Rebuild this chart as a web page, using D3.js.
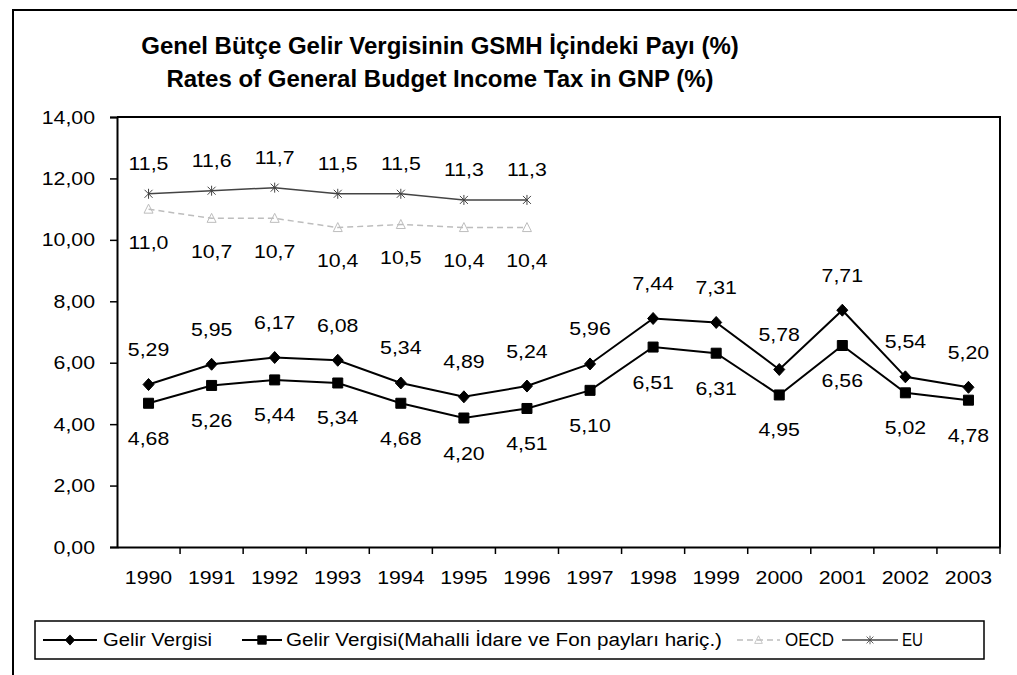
<!DOCTYPE html>
<html>
<head>
<meta charset="utf-8">
<script src="https://cdn.jsdelivr.net/npm/d3@7"></script>
<style>
  html, body { margin: 0; padding: 0; background: #fff; }
  svg { display: block; }
  text { font-family: "Liberation Sans", Arial, sans-serif; fill: #000; }
</style>
</head>
<body>
<svg id="chart" width="1017" height="675"></svg>
<script>
const years = ["1990","1991","1992","1993","1994","1995","1996","1997","1998","1999","2000","2001","2002","2003"];
const gelirVergisi = [5.29, 5.95, 6.17, 6.08, 5.34, 4.89, 5.24, 5.96, 7.44, 7.31, 5.78, 7.71, 5.54, 5.20];
const gelirMahalliHaric = [4.68, 5.26, 5.44, 5.34, 4.68, 4.20, 4.51, 5.10, 6.51, 6.31, 4.95, 6.56, 5.02, 4.78];
const oecdYears = ["1990","1991","1992","1993","1994","1995","1996"];
const oecd = [11.0, 10.7, 10.7, 10.4, 10.5, 10.4, 10.4];
const eu = [11.5, 11.6, 11.7, 11.5, 11.5, 11.3, 11.3];
const yTicks = [0, 2, 4, 6, 8, 10, 12, 14];
const titleLines = ["Genel Bütçe Gelir Vergisinin GSMH İçindeki Payı (%)", "Rates of General Budget Income Tax in GNP (%)"];
const legendLabels = ["Gelir Vergisi", "Gelir Vergisi(Mahalli İdare ve Fon payları hariç.)", "OECD", "EU"];

const svg = d3.select("#chart");
const STRETCH = 1.12;
function stretch(sel, k) {
  sel.each(function () {
    const w = this.getComputedTextLength();
    this.setAttribute("textLength", w * k);
    this.setAttribute("lengthAdjust", "spacingAndGlyphs");
  });
}
function fitWidth(sel, w) {
  sel.attr("textLength", w).attr("lengthAdjust", "spacingAndGlyphs");
}
const comma2 = d => d.toFixed(2).replace(".", ",");
const comma1 = d => d.toFixed(1).replace(".", ",");

// outer frame
svg.append("rect").attr("x", 13).attr("y", 10).attr("width", 1030).attr("height", 700)
  .attr("fill", "none").attr("stroke", "#000").attr("stroke-width", 2);

// title
const tl = svg.append("g");
tl.selectAll("text").data(titleLines).join("text")
  .attr("x", 440).attr("y", (d, i) => 54 + i * 33)
  .attr("text-anchor", "middle")
  .style("font-weight", "bold").style("font-size", "24px")
  .text(d => d);

const x = d3.scaleBand().domain(years).range([117, 1000]);
const y = d3.scaleLinear().domain([0, 14]).range([547, 117]);
const cx = d => x(d) + x.bandwidth() / 2;

// plot area border (top & right)
svg.append("path")
  .attr("d", `M${x.range()[0]},${y(14)}H${x.range()[1]}V${y(0)}`)
  .attr("fill", "none").attr("stroke", "#000").attr("stroke-width", 2);

// y axis
const yAxis = svg.append("g").attr("transform", `translate(${x.range()[0]},0)`)
  .call(d3.axisLeft(y).tickValues(yTicks).tickFormat(comma2).tickSize(7).tickPadding(15));
yAxis.select(".domain").attr("stroke-width", 2);
yAxis.selectAll(".tick line").attr("stroke-width", 1.5);
yAxis.selectAll("text").style("font-size", "19px").attr("fill", "#000");
stretch(yAxis.selectAll("text"), STRETCH);

// x axis
const xAxis = svg.append("g").attr("transform", `translate(0,${y(0)})`)
  .call(d3.axisBottom(x).tickSize(0).tickPadding(24));
xAxis.select(".domain").attr("stroke-width", 2);
xAxis.selectAll("text").style("font-size", "19px").attr("fill", "#000");
stretch(xAxis.selectAll("text"), STRETCH);
// Excel-style tick marks at category boundaries
xAxis.selectAll("line.bound").data(years.slice(1).concat(["end"])).join("line")
  .attr("class", "bound")
  .attr("x1", d => d === "end" ? x.range()[1] : x(d))
  .attr("x2", d => d === "end" ? x.range()[1] : x(d))
  .attr("y1", 0).attr("y2", 7).attr("stroke", "#000").attr("stroke-width", 1.5);

// marker shapes
const diamondPath = "M0,-6L5.5,0L0,6L-5.5,0Z";
const squarePath = "M-5,-5H5V5H-5Z";
const trianglePath = "M0,-5L4.5,4H-4.5Z";
const starPath = "M-4,-4L4,4M-4,4L4,-4M0,-5V5";

function series(xs, vals, opt) {
  const g = svg.append("g");
  const line = d3.line().x((d, i) => cx(xs[i])).y(d => y(d));
  g.append("path").attr("d", line(vals)).attr("fill", "none")
    .attr("stroke", opt.color).attr("stroke-width", opt.width)
    .attr("stroke-dasharray", opt.dash || null);
  g.selectAll("path.m").data(vals).join("path").attr("class", "m")
    .attr("transform", (d, i) => `translate(${cx(xs[i])},${y(d)})`)
    .attr("d", opt.marker)
    .attr("fill", opt.fill).attr("stroke", opt.color).attr("stroke-width", opt.mw || 1);
  const t = g.selectAll("text").data(vals).join("text")
    .attr("x", (d, i) => cx(xs[i]))
    .attr("y", d => y(d) + opt.dy)
    .attr("text-anchor", "middle").attr("dominant-baseline", "central")
    .style("font-size", "19px")
    .text(opt.fmt);
  stretch(t, STRETCH);
}

series(oecdYears, oecd, { color: "#bdbdbd", width: 1.5, marker: trianglePath, fill: "none", dy: 33, fmt: comma1, dash: "6,4" });
series(oecdYears, eu, { color: "#444", width: 1.5, marker: starPath, fill: "none", dy: -30, fmt: comma1 });
series(years, gelirVergisi, { color: "#000", width: 2, marker: diamondPath, fill: "#000", dy: -35, fmt: comma2 });
series(years, gelirMahalliHaric, { color: "#000", width: 2, marker: squarePath, fill: "#000", dy: 35, fmt: comma2 });

// legend
const lg = svg.append("g");
lg.append("rect").attr("x", 35).attr("y", 621).attr("width", 949).attr("height", 38)
  .attr("fill", "#fff").attr("stroke", "#000").attr("stroke-width", 1.5);
const legendItems = [
  { x1: 43, x2: 97, label: legendLabels[0], tx: 103, tw: 109, color: "#000", marker: diamondPath, fill: "#000", w: 2 },
  { x1: 242, x2: 282, label: legendLabels[1], tx: 286, tw: 436, color: "#000", marker: squarePath, fill: "#000", w: 2 },
  { x1: 737, x2: 780, label: legendLabels[2], tx: 785, tw: 49, color: "#bdbdbd", marker: trianglePath, fill: "none", w: 1.5 },
  { x1: 842, x2: 898, label: legendLabels[3], tx: 902, tw: 21, color: "#444", marker: starPath, fill: "none", w: 1.5 }
];
const ly = 640;
legendItems.forEach(it => {
  lg.append("line").attr("x1", it.x1).attr("x2", it.x2).attr("y1", ly).attr("y2", ly)
    .attr("stroke", it.color).attr("stroke-width", it.w)
    .attr("stroke-dasharray", it.color === "#bdbdbd" ? "6,4" : null);
  lg.append("path").attr("d", it.marker)
    .attr("transform", `translate(${(it.x1 + it.x2) / 2},${ly}) scale(0.85)`)
    .attr("fill", it.fill).attr("stroke", it.color);
  const t = lg.append("text").attr("x", it.tx).attr("y", ly).attr("dominant-baseline", "central")
    .style("font-size", "18px").text(it.label);
  fitWidth(t, it.tw);
});
</script>
</body>
</html>
